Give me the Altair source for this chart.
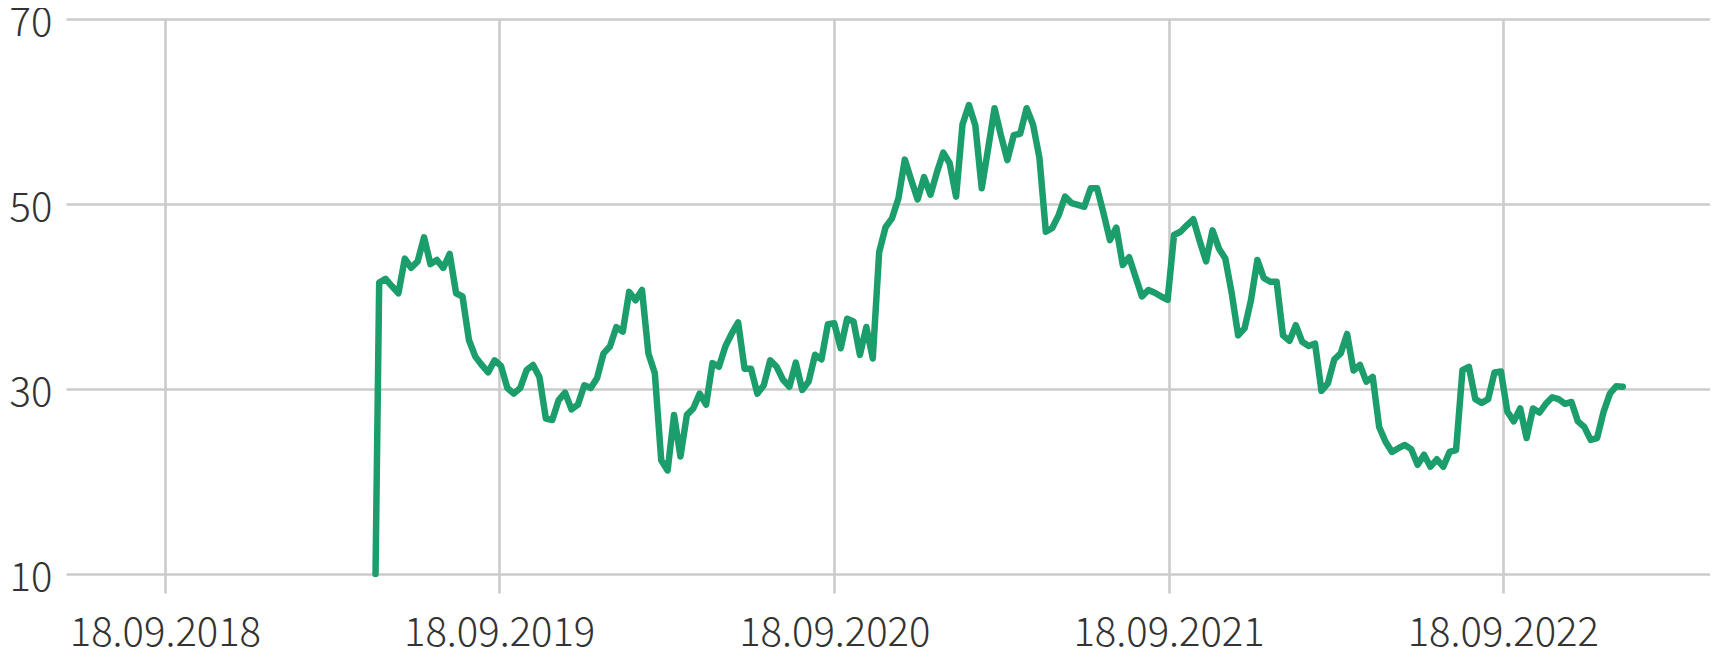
import altair as alt
import pandas as pd

# first sample (start of series) and weekly values
start_date = "2019-05-06"
start_value = 10
weekly_start = "2019-05-10"
weekly_values = [
    41.5, 41.9, 41.1, 40.35, 44.1, 43.1, 43.8, 46.4, 43.5, 43.95,
    43.1, 44.6, 40.35, 40.0, 35.3, 33.5, 32.6, 31.8, 33.1, 32.5,
    30.1, 29.5, 30.1, 32.05, 32.6, 31.3, 26.8, 26.65, 28.8, 29.6,
    27.8, 28.3, 30.4, 30.1, 31.2, 33.85, 34.6, 36.7, 36.2, 40.5,
    39.6, 40.7, 33.85, 31.7, 22.3, 21.2, 27.2, 22.7, 27.2, 27.9,
    29.5, 28.3, 32.8, 32.4, 34.6, 36.0, 37.2, 32.2, 32.2, 29.5,
    30.4, 33.1, 32.4, 31.0, 30.25, 32.85, 29.9, 30.8, 33.7, 33.2,
    37.0, 37.1, 34.4, 37.6, 37.3, 33.7, 36.7, 33.3, 44.8, 47.5,
    48.45, 50.6, 54.8, 52.6, 50.5, 52.9, 51.0, 53.4, 55.55, 54.4,
    50.8, 58.6, 60.7, 58.5, 51.7, 56.0, 60.35, 57.4, 54.75, 57.45,
    57.6, 60.35, 58.6, 55.0, 47.0, 47.4, 48.8, 50.8, 50.1, 49.9,
    49.7, 51.7, 51.7, 49.0, 46.1, 47.45, 43.4, 44.25, 42.1, 40.0,
    40.7, 40.4, 40.0, 39.65, 46.65, 47.0, 47.7, 48.35, 46.0, 43.8,
    47.15, 45.2, 44.1, 40.35, 35.8, 36.55, 39.6, 43.95, 42.0, 41.6,
    41.6, 35.8, 35.2, 36.9, 35.1, 34.65, 34.9, 29.8, 30.6, 33.2,
    33.85, 35.95, 32.0, 32.6, 30.8, 31.3, 25.9, 24.3, 23.2, 23.6,
    23.95, 23.5, 21.8, 22.9, 21.6, 22.4, 21.6, 23.2, 23.4, 32.05,
    32.4, 28.9, 28.5, 28.9, 31.8, 31.9, 27.55, 26.5, 27.9, 24.7,
    27.9, 27.45, 28.4, 29.1, 28.9, 28.4, 28.6, 26.5, 25.9, 24.5,
    24.7, 27.5, 29.5, 30.3, 30.25,
]
tick_years = [2018, 2019, 2020, 2021, 2022]
y_ticks = [10, 30, 50, 70]

weekly_dates = [d.strftime("%Y-%m-%d")
                for d in pd.date_range(weekly_start, periods=len(weekly_values), freq="7D")]
df = pd.DataFrame({
    "date": [start_date] + weekly_dates,
    "value": [start_value] + weekly_values,
})

GRID = "#cbcbcb"
FONT = "Noto Sans CJK SC"
TEXT = "#333333"

x = alt.X(
    "date:T",
    scale=alt.Scale(
        type="utc",
        domain=[
            alt.DateTime(year=2018, month=6, date=2, utc=True),
            alt.DateTime(year=2023, month=5, date=2, hours=7, utc=True),
        ],
    ),
    axis=alt.Axis(
        values=[alt.DateTime(year=yr, month=9, date=18, utc=True) for yr in tick_years],
        labelExpr="utcFormat(datum.value, '%d.%m.%Y')",
        title=None,
        domain=False,
        grid=True,
        gridColor=GRID,
        gridWidth=2.6,
        ticks=True,
        tickSize=19,
        tickColor=GRID,
        tickWidth=2.6,
        labelFont=FONT,
        labelFontSize=40,
        labelFontWeight=300,
        labelColor=TEXT,
        labelPadding=20,
        labelOverlap=False,
        labelFlush=False,
        labelLimit=0,
    ),
)

y = alt.Y(
    "value:Q",
    scale=alt.Scale(domain=[10, 70], nice=False, zero=False),
    axis=alt.Axis(
        values=y_ticks,
        title=None,
        domain=False,
        ticks=False,
        grid=True,
        gridColor=GRID,
        gridWidth=2.6,
        labelFont=FONT,
        labelFontSize=40,
        labelFontWeight=300,
        labelColor=TEXT,
        labelAlign="left",
        labelPadding=57,
        labelBaseline="middle",
        labelOffset=4,
        labelLimit=0,
    ),
)

chart = (
    alt.Chart(df)
    .mark_line(color="#1b9e6b", strokeWidth=6.5, strokeCap="round", strokeJoin="round")
    .encode(x=x, y=y)
    .properties(
        width=1644,
        height=555,
        autosize=alt.AutoSizeParams(type="none"),
        padding={"left": 58, "top": 11, "right": 0, "bottom": 84},
    )
    .configure_view(stroke=None)
)

chart.save("out.html", embed_options={"renderer": "svg", "actions": False})
